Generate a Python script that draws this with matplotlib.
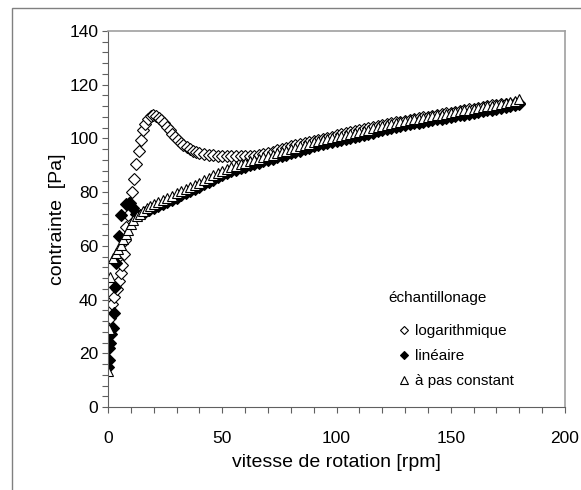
import numpy as np
import matplotlib
matplotlib.use('Agg')
import matplotlib.pyplot as plt
from matplotlib.patches import Rectangle
from matplotlib.ticker import MultipleLocator

plt.rcParams['font.family'] = ['Liberation Sans', 'DejaVu Sans']

############################  Dati  ############################
# vitesse de rotation [rpm] (zone dense, pas de 2 rpm)
x_dense = [20, 22, 24, 26, 28, 30, 32, 34, 36, 38, 40, 42, 44, 46, 48, 50, 52, 54, 56, 58,
           60, 62, 64, 66, 68, 70, 72, 74, 76, 78, 80, 82, 84, 86, 88, 90, 92, 94, 96, 98,
           100, 102, 104, 106, 108, 110, 112, 114, 116, 118, 120, 122, 124, 126, 128, 130,
           132, 134, 136, 138, 140, 142, 144, 146, 148, 150, 152, 154, 156, 158, 160, 162,
           164, 166, 168, 170, 172, 174, 176, 178, 180]

# à pas constant
const_x0 = [0.2, 0.4, 1.0, 2.2, 3.3, 4.4, 5.5, 6.6, 7.7, 8.8, 9.9, 11.0, 12.5, 14.0, 15.5, 17.0, 18.5]
const_y0 = [13.5, 29, 48.5, 55.5, 57.5, 59, 60.5, 62.5, 64.5, 66, 68, 69.5, 71, 72, 73, 74, 74.8]
const_y = [75.5, 76.3, 77.1, 77.9, 78.7, 79.5, 80.3, 81.1, 81.9, 82.7, 83.5, 84.4, 85.3, 86.2,
           87.1, 88.0, 88.6, 89.2, 89.8, 90.4, 91.0, 91.5, 92.0, 92.5, 93.0, 93.5, 94.0, 94.5,
           95.0, 95.5, 96.0, 96.5, 97.0, 97.5, 98.0, 98.5, 98.9, 99.3, 99.7, 100.1, 100.5,
           100.9, 101.3, 101.7, 102.1, 102.5, 102.9, 103.3, 103.7, 104.1, 104.5, 104.9, 105.3,
           105.7, 106.1, 106.5, 106.8, 107.1, 107.4, 107.7, 108.0, 108.3, 108.6, 108.9, 109.2,
           109.5, 109.8, 110.1, 110.4, 110.7, 111.0, 111.3, 111.6, 111.9, 112.2, 112.5, 112.9,
           113.3, 113.7, 114.1, 114.5]

# linéaire
lin_x0 = [0.2, 0.3, 0.5, 0.8, 1.2, 2.0, 2.8, 3.0, 3.5, 4.6, 5.8, 7.8, 9.3, 10.8, 12.3, 14.0, 16.0, 18.0]
lin_y0 = [15, 17.5, 22, 24, 27, 29.5, 35, 44.5, 53.5, 63.5, 71.5, 75.5, 76, 74, 72, 71.5, 72.5, 73.5]
lin_y = [74.0, 74.8, 75.6, 76.4, 77.2, 78.0, 78.8, 79.6, 80.4, 81.2, 82.0, 82.9, 83.8, 84.7,
         85.6, 86.5, 87.1, 87.7, 88.3, 88.9, 89.5, 90.0, 90.5, 91.0, 91.5, 92.0, 92.5, 93.0,
         93.5, 94.0, 94.5, 95.0, 95.5, 96.0, 96.5, 97.0, 97.4, 97.8, 98.2, 98.6, 99.0, 99.4,
         99.8, 100.2, 100.6, 101.0, 101.4, 101.8, 102.2, 102.6, 103.0, 103.4, 103.8, 104.2,
         104.6, 105.0, 105.3, 105.6, 105.9, 106.2, 106.5, 106.8, 107.1, 107.4, 107.7, 108.0,
         108.3, 108.6, 108.9, 109.2, 109.5, 109.8, 110.1, 110.4, 110.7, 111.0, 111.4, 111.8,
         112.2, 112.6, 113.0]

# logarithmique
log_x0 = [1.0, 1.6, 2.5, 3.8, 4.6, 5.5, 6.2, 6.8, 7.4, 8.0, 8.8, 9.6, 10.4, 11.4, 12.4, 13.4,
          14.4, 15.4, 16.4, 17.4, 18.6, 19.8, 21.0, 22.2, 23.4, 24.6, 25.8, 27.0, 28.2, 29.4,
          30.6, 31.8, 33.0, 34.4, 35.8, 37.2, 38.6]
log_y0 = [33, 38.5, 41, 44, 47, 50, 53, 57, 62, 67, 71.5, 76, 80, 85, 90.5, 95.5, 99.5, 103,
          105.5, 107.3, 108.3, 108.6, 108.4, 107.7, 106.8, 105.6, 104.3, 103, 101.7, 100.5,
          99.4, 98.4, 97.5, 96.7, 96.0, 95.4, 95.0]
log_x1 = x_dense[10:]
log_y1 = [94.6, 94.3, 94.0, 93.8, 93.6, 93.5, 93.4, 93.3, 93.3, 93.3, 93.3, 93.4, 93.6, 93.8,
          94.2, 94.6, 95.1, 95.6, 96.1, 96.6, 97.1, 97.5, 97.9, 98.3, 98.7, 99.1, 99.5,
          99.9, 100.3, 100.7, 101.1, 101.5, 101.9, 102.3, 102.7, 103.1, 103.5, 103.9, 104.3,
          104.7, 105.1, 105.4, 105.7, 106.0, 106.3, 106.6, 106.9, 107.2, 107.5, 107.8, 108.1,
          108.4, 108.7, 109.0, 109.3, 109.6, 109.9, 110.2, 110.5, 110.8, 111.1, 111.4, 111.7,
          112.0, 112.3, 112.5, 112.7, 112.8, 113.0, 113.1, 113.2]

################################  Grafico  #######################################
fig = plt.figure(figsize=(5.81, 4.90), dpi=100)
ax = fig.add_axes([108/581, 1-407/490, 457/581, 376/490])

# cornice esterna
fig.add_artist(Rectangle((12/581, -0.1), 1.2, 1.1 - 8/490, transform=fig.transFigure,
                         fill=False, edgecolor='#808080', linewidth=1.0))

ax.plot(log_x0 + log_x1, log_y0 + log_y1, 'D', ms=6.3, mfc='white', mec='black', mew=0.8,
        linestyle='none', label='logarithmique')
ax.plot(lin_x0 + x_dense, lin_y0 + lin_y, 'D', ms=6.3, mfc='black', mec='black', mew=0.8,
        linestyle='none', label='linéaire')
ax.plot(const_x0 + x_dense, const_y0 + const_y, '^', ms=7.5, mfc='white', mec='black', mew=0.8,
        linestyle='none', label='à pas constant')

ax.set_xlim(0, 200)
ax.set_ylim(0, 140)
ax.xaxis.set_major_locator(MultipleLocator(50))
ax.xaxis.set_minor_locator(MultipleLocator(10))
ax.yaxis.set_major_locator(MultipleLocator(20))
ax.yaxis.set_minor_locator(MultipleLocator(4))
ax.tick_params(which='both', direction='out', length=4, width=0.8, color='#606060',
               labelsize=12.5)
ax.tick_params(axis='x', which='major', pad=13)
ax.tick_params(axis='y', which='major', pad=3)

for s in ['left', 'bottom']:
    ax.spines[s].set_color('#606060')
for s in ['top', 'right']:
    ax.spines[s].set_color('#a0a0a0')
    ax.spines[s].set_linewidth(1.2)

ax.set_xlabel('vitesse de rotation [rpm]', fontsize=14, labelpad=6)
ax.set_ylabel('contrainte  [Pa]', fontsize=14, labelpad=2)

# legenda
ax.text(0.613, 0.290, 'échantillonage', transform=ax.transAxes, fontsize=11,
        ha='left', va='center')
leg = ax.legend(loc='center left', bbox_to_anchor=(0.631, 0.1356), borderaxespad=0,
                borderpad=0, frameon=False, fontsize=11, markerscale=0.7,
                handlelength=1.0, handletextpad=0.25, labelspacing=0.72)

plt.savefig('out.png')
